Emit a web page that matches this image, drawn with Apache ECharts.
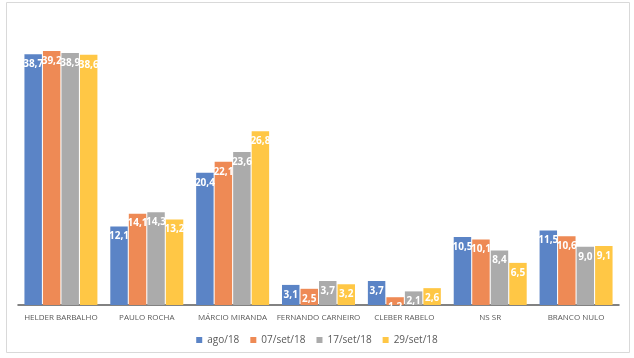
<!DOCTYPE html>
<html><head><meta charset="utf-8">
<script src="https://cdn.jsdelivr.net/npm/echarts@6/dist/echarts.min.js"></script>
<style>html,body{margin:0;padding:0;background:#fff;}#c{width:634px;height:358px;}</style>
</head><body><div id="c"></div>
<script>
const categories = ['HELDER BARBALHO','PAULO ROCHA','MÁRCIO MIRANDA','FERNANDO CARNEIRO','CLEBER RABELO','NS SR','BRANCO NULO'];
const seriesNames = ['ago/18','07/set/18','17/set/18','29/set/18'];
const ago18 = [38.7,12.1,20.4,3.1,3.7,10.5,11.5];
const set07 = [39.2,14.1,22.1,2.5,1.2,10.1,10.6];
const set17 = [38.9,14.3,23.6,3.7,2.1,8.4,9.0];
const set29 = [38.6,13.2,26.8,3.2,2.6,6.5,9.1];
const colors = ['#5B84C6','#EE8A55','#ABABAB','#FFC745'];
const values = [ago18,set07,set17,set29];

const chart = echarts.init(document.getElementById('c'));
chart.setOption({
  animation:false,
  graphic:[{type:'rect',shape:{x:6.5,y:2.5,width:623,height:350},style:{fill:'none',stroke:'#d9d9d9',lineWidth:1}}],
  legend:{bottom:8,left:'center',itemWidth:6,itemHeight:6,itemGap:11,icon:'rect',
    textStyle:{color:'#595959',fontSize:10,fontFamily:'Open Sans'},data:seriesNames},
  grid:{left:18,right:15,top:13.4,bottom:53,containLabel:false},
  xAxis:{type:'category',data:categories,
    axisLine:{lineStyle:{color:'#595959',width:1.5}},axisTick:{show:false},
    axisLabel:{color:'#595959',fontSize:8,fontFamily:'Open Sans',margin:9,interval:0}},
  yAxis:{type:'value',min:0,max:45,show:false,splitLine:{show:false}},
  series: values.map((v,i)=>({
    name:seriesNames[i],type:'bar',data:v,barGap:'6%',barCategoryGap:'15%',
    itemStyle:{color:colors[i]},
    label:{show:true,position:'insideTop',distance:5,color:'#fff',fontSize:10,fontWeight:'bold',fontFamily:'Open Sans',
      formatter:p=>p.value.toFixed(1).replace('.',',')}
  }))
});
</script></body></html>
